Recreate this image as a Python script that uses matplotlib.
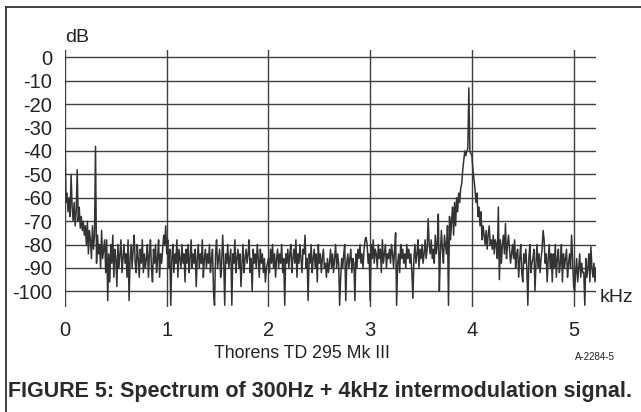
import matplotlib
matplotlib.use("Agg")
import matplotlib.pyplot as plt
from matplotlib.lines import Line2D
import numpy as np

# spectrum, one value per 10 Hz bin from 0 to 5.22 kHz
bin_khz = 0.01
level_db = [
    -34, -62, -58, -66, -60, -68, -50, -64, -70, -62, -72, -66, -48, -70, -64, -73, -68, -74, -70, -76,
    -72, -80, -70, -84, -74, -78, -86, -72, -82, -76, -38, -88, -76, -84, -80, -90, -74, -86, -82, -78,
    -92, -78, -104, -84, -96, -80, -88, -76, -94, -82, -86, -98, -80, -90, -84, -78, -92, -86, -80, -88,
    -84, -94, -78, -104, -86, -80, -90, -82, -76, -88, -92, -80, -86, -94, -82, -88, -78, -92, -84, -90,
    -86, -80, -94, -84, -78, -90, -96, -82, -88, -80, -92, -86, -78, -94, -84, -88, -82, -76, -80, -72,
    -84, -78, -90, -82, -106, -86, -80, -92, -84, -88, -78, -94, -82, -86, -90, -80, -88, -84, -96, -82,
    -88, -80, -92, -86, -78, -90, -84, -88, -82, -98, -86, -80, -90, -84, -88, -78, -94, -86, -82, -90,
    -84, -88, -80, -92, -86, -82, -100, -106, -84, -78, -90, -86, -82, -94, -88, -76, -86, -106, -84, -88,
    -80, -90, -86, -82, -106, -84, -88, -78, -92, -86, -82, -90, -84, -98, -88, -80, -92, -86, -82, -88,
    -84, -78, -92, -86, -100, -82, -88, -84, -90, -80, -86, -94, -82, -88, -84, -92, -86, -96, -90, -88,
    -86, -92, -82, -88, -80, -90, -84, -94, -86, -82, -90, -84, -88, -80, -92, -86, -106, -84, -88, -82,
    -90, -84, -80, -92, -86, -82, -88, -78, -94, -84, -88, -80, -86, -92, -82, -84, -76, -90, -86, -104,
    -84, -88, -80, -92, -86, -82, -90, -84, -96, -80, -88, -84, -92, -86, -82, -90, -88, -94, -86, -92,
    -88, -82, -90, -84, -92, -86, -80, -90, -84, -88, -106, -94, -86, -90, -84, -80, -104, -88, -84, -90,
    -86, -82, -92, -86, -88, -104, -84, -90, -82, -86, -80, -88, -84, -90, -82, -78, -77, -80, -88, -84,
    -104, -80, -86, -78, -88, -82, -84, -90, -80, -86, -82, -92, -78, -88, -84, -80, -90, -84, -86, -82,
    -88, -80, -84, -90, -82, -75, -106, -88, -84, -92, -80, -86, -82, -88, -84, -90, -80, -86, -82, -88,
    -84, -92, -103, -86, -80, -88, -84, -78, -90, -82, -86, -80, -88, -84, -78, -86, -82, -69, -80, -84,
    -78, -86, -82, -88, -76, -84, -80, -67, -100, -84, -74, -82, -88, -76, -80, -84, -72, -106, -68, -78,
    -70, -64, -76, -62, -72, -60, -66, -58, -62, -56, -54, -48, -44, -40, -42, -40, -39, -13, -40, -41,
    -42, -48, -52, -56, -62, -58, -68, -64, -72, -66, -78, -72, -76, -80, -74, -82, -76, -72, -80, -78,
    -82, -76, -84, -78, -80, -86, -64, -95, -78, -88, -80, -76, -84, -71, -86, -80, -76, -82, -88, -84,
    -80, -86, -78, -90, -84, -82, -94, -86, -80, -92, -96, -84, -88, -82, -90, -106, -86, -80, -92, -88,
    -86, -82, -100, -88, -80, -90, -84, -92, -86, -82, -74, -78, -88, -84, -96, -86, -80, -90, -84, -96,
    -84, -90, -80, -94, -86, -82, -92, -88, -80, -96, -84, -90, -86, -82, -94, -88, -84, -90, -76, -86,
    -98, -100, -92, -86, -96, -90, -84, -94, -88, -92, -92, -106, -86, -94, -90, -84, -96, -81, -90, -94,
    -88, -96, -90,
]
db_ticks = [0, -10, -20, -30, -40, -50, -60, -70, -80, -90, -100]
khz_ticks = [0, 1, 2, 3, 4, 5]

freq_khz = np.arange(len(level_db)) * bin_khz

plt.rcParams['font.family'] = ['Liberation Sans', 'DejaVu Sans']

fig = plt.figure(figsize=(6.41, 4.12), dpi=100)
W, H = 641, 412

# plot area: 0..5.22 kHz, +3.2..-106.6 dB
ax = fig.add_axes([65 / W, (H - 306.7) / H, (596 - 65) / W, 256.7 / H])
ax.plot(freq_khz, level_db, color='#333333', lw=1.1, zorder=3)
ax.set_xlim(0, 5.22)
ax.set_ylim(-106.6, 3.2)
ax.set_xticks(khz_ticks)
ax.set_yticks(db_ticks)
ax.set_yticklabels([str(t) for t in db_ticks])
ax.grid(True, color='#3f3f3f', lw=1.0, zorder=1)
for s in ax.spines.values():
    s.set_visible(False)
ax.tick_params(length=0, labelsize=14.5, colors='#222222')
ax.tick_params(axis='y', pad=9)
ax.tick_params(axis='x', pad=10)

fig.text(65 / W, 1 - 37 / H, 'dB', fontsize=14, color='#222222', va='center', ha='left')
fig.text(600 / W, 1 - 298 / H, 'kHz', fontsize=14, color='#222222', va='center', ha='left')
fig.text(302 / W, 1 - 354 / H, 'Thorens TD 295 Mk III', fontsize=12.8, color='#222222',
         va='center', ha='center')
fig.text(615 / W, 1 - 357 / H, 'A-2284-5', fontsize=7, color='#222222', va='center', ha='right')
fig.text(8 / W, 1 - 392 / H, 'FIGURE 5: Spectrum of 300Hz + 4kHz intermodulation signal.',
         fontsize=15.5, fontweight='bold', color='#2a2a2a', va='center', ha='left')

# frame: top and left edges of the figure box
fig.add_artist(Line2D([6 / W, 1], [1 - 7 / H, 1 - 7 / H], color='#333333', lw=1.3))
fig.add_artist(Line2D([6 / W, 6 / W], [0, 1 - 7 / H], color='#333333', lw=1.3))

fig.savefig('out.png', dpi=100)
